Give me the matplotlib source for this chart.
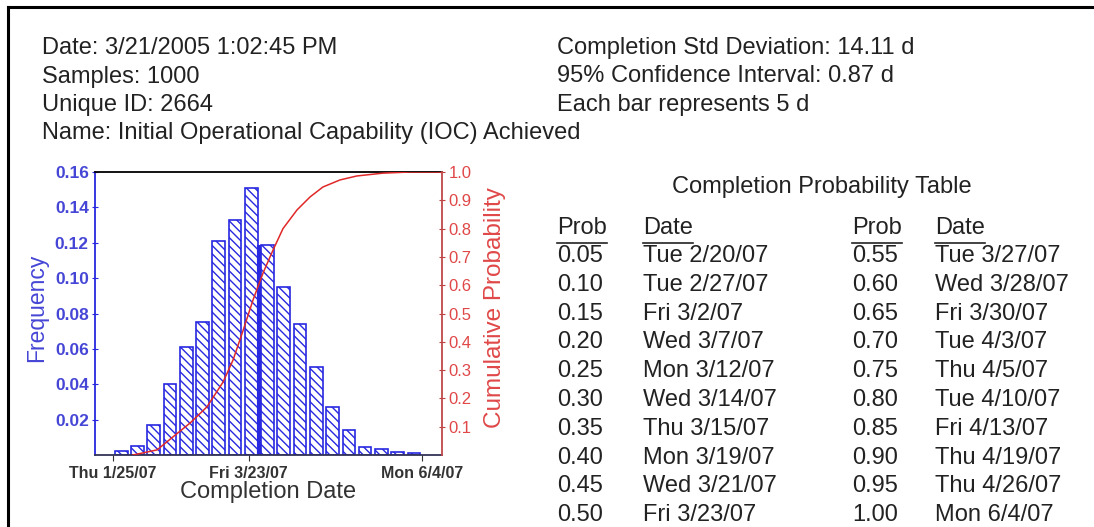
import numpy as np
import pandas as pd
import matplotlib
matplotlib.use("Agg")
import matplotlib.pyplot as plt
from matplotlib.lines import Line2D

plt.rcParams['font.family'] = ['Liberation Sans', 'DejaVu Sans']
plt.rcParams['hatch.linewidth'] = 1.0

# datos del histograma (19 barras entre Thu 1/25/07 y Mon 6/4/07)
frecuencia = [0.002, 0.005, 0.017, 0.040, 0.061, 0.075, 0.121, 0.133, 0.151, 0.119,
              0.095, 0.074, 0.050, 0.027, 0.014, 0.0047, 0.0032, 0.0019, 0.001]

# curva acumulada (dias despues de 1/25/07, probabilidad)
curva_dias = [8.4, 18.5, 25.2, 32.4, 39.5, 46.3, 50.5, 54.7, 58.9, 63.1, 67.3,
              71.5, 77.4, 82.9, 88.3, 95.5, 102.6, 113.6, 124.9, 138.4]
curva_prob = [0.0, 0.018, 0.064, 0.113, 0.17, 0.258, 0.336, 0.44, 0.548, 0.643, 0.724,
              0.80, 0.866, 0.912, 0.947, 0.972, 0.986, 0.996, 1.0, 1.0]

inicio = "2007-01-25"
fin = "2007-06-04"
tick_fechas = ["2007-01-25", "2007-03-23", "2007-06-04"]
tick_textos = ["Thu 1/25/07", "Fri 3/23/07", "Mon 6/4/07"]
marca_dia = 61.5  # linea azul gruesa

info_izq = ["Date: 3/21/2005 1:02:45 PM", "Samples: 1000", "Unique ID: 2664",
            "Name: Initial Operational Capability (IOC) Achieved"]
info_der = ["Completion Std Deviation: 14.11 d", "95% Confidence Interval: 0.87 d",
            "Each bar represents 5 d"]

tabla_prob1 = ["0.05", "0.10", "0.15", "0.20", "0.25", "0.30", "0.35", "0.40", "0.45", "0.50"]
tabla_fecha1 = ["Tue 2/20/07", "Tue 2/27/07", "Fri 3/2/07", "Wed 3/7/07", "Mon 3/12/07",
                "Wed 3/14/07", "Thu 3/15/07", "Mon 3/19/07", "Wed 3/21/07", "Fri 3/23/07"]
tabla_prob2 = ["0.55", "0.60", "0.65", "0.70", "0.75", "0.80", "0.85", "0.90", "0.95", "1.00"]
tabla_fecha2 = ["Tue 3/27/07", "Wed 3/28/07", "Fri 3/30/07", "Tue 4/3/07", "Thu 4/5/07",
                "Tue 4/10/07", "Fri 4/13/07", "Thu 4/19/07", "Thu 4/26/07", "Mon 6/4/07"]

W, H = 1094, 527
azul = '#2828e0'
azul_txt = '#4646d6'
rojo = '#e02828'
rojo_txt = '#e04848'
gris = '#222222'
fs = 17

t0 = pd.Timestamp(inicio)
total = (pd.Timestamp(fin) - t0).days
bordes = np.linspace(0, total, len(frecuencia) + 1)
centros = (bordes[:-1] + bordes[1:]) / 2
ancho = (bordes[1] - bordes[0]) * 0.78
ticks = [(pd.Timestamp(f) - t0).days for f in tick_fechas]

fig = plt.figure(figsize=(W / 100, H / 100), dpi=100)
ax = fig.add_axes([95 / W, 1 - 455 / H, (442 - 95) / W, (455 - 172) / H])

ax.bar(centros, frecuencia, width=ancho, facecolor='white', edgecolor=azul,
       hatch='\\\\\\\\', linewidth=1.2)
ax.vlines(marca_dia, 0, frecuencia[9], color=azul, linewidth=3)
ax.set_xlim(-7.6, 138.4)
ax.set_ylim(0, 0.16)
ax.set_yticks([0.02, 0.04, 0.06, 0.08, 0.10, 0.12, 0.14, 0.16])
ax.set_yticklabels(['0.02', '0.04', '0.06', '0.08', '0.10', '0.12', '0.14', '0.16'],
                   fontsize=12.5, fontweight='bold', color=azul_txt)
ax.set_xticks(ticks)
ax.set_xticklabels(tick_textos, fontsize=11.5, fontweight='bold', color='#333333')
ax.tick_params(axis='y', direction='inout', length=5, color=azul, pad=2)
ax.tick_params(axis='x', direction='out', length=4, color='#333333', pad=4)
ax.set_ylabel('Frequency', fontsize=16.5, color=azul_txt)
ax.yaxis.set_label_coords(-0.135, 0.52)
ax.set_xlabel('Completion Date', fontsize=17, color='#333333', labelpad=0)
ax.spines['left'].set_color(azul)
ax.spines['bottom'].set_color('#333355')
ax.spines['top'].set_color('black')
ax.spines['right'].set_visible(False)
for s in ['left', 'bottom', 'top']:
    ax.spines[s].set_linewidth(1.3)

ax2 = ax.twinx()
ax2.plot(curva_dias, curva_prob, color=rojo, linewidth=1.1)
ax2.set_ylim(0, 1.0)
ax2.set_yticks([0.1, 0.2, 0.3, 0.4, 0.5, 0.6, 0.7, 0.8, 0.9, 1.0])
ax2.set_yticklabels(['0.1', '0.2', '0.3', '0.4', '0.5', '0.6', '0.7', '0.8', '0.9', '1.0'],
                    fontsize=12, color=rojo_txt)
ax2.tick_params(axis='y', direction='inout', length=5, color='#c04040', pad=2)
ax2.set_ylabel('Cumulative Probability', fontsize=17.5, color=rojo_txt)
ax2.yaxis.set_label_coords(1.122, 0.52)
for s in ['left', 'bottom', 'top']:
    ax2.spines[s].set_visible(False)
ax2.spines['right'].set_color('#c04848')
ax2.spines['right'].set_linewidth(1.3)

# textos de arriba
for i, t in enumerate(info_izq):
    fig.text(42 / W, 1 - (48 + 28.5 * i) / H, t, fontsize=fs, color=gris, va='center')
for i, t in enumerate(info_der):
    fig.text(557 / W, 1 - (48 + 28.5 * i) / H, t, fontsize=fs, color=gris, va='center')

# tabla de probabilidades
fig.text(822 / W, 1 - 187 / H, 'Completion Probability Table', fontsize=fs, color=gris,
         ha='center', va='center')
renderer = fig.canvas.get_renderer()
for x, h in [(557, 'Prob'), (643, 'Date'), (852, 'Prob'), (935, 'Date')]:
    txt = fig.text(x / W, 1 - 228 / H, h, fontsize=fs, color=gris, va='center')
    bb = txt.get_window_extent(renderer)
    fig.add_artist(Line2D([bb.x0 / W, bb.x1 / W], [(H - 243) / H, (H - 243) / H],
                          color=gris, linewidth=1.2))
for i in range(len(tabla_prob1)):
    y = 1 - (256 + 28.8 * i) / H
    fig.text(557 / W, y, tabla_prob1[i], fontsize=fs, color=gris, va='center')
    fig.text(643 / W, y, tabla_fecha1[i], fontsize=fs, color=gris, va='center')
    fig.text(852 / W, y, tabla_prob2[i], fontsize=fs, color=gris, va='center')
    fig.text(935 / W, y, tabla_fecha2[i], fontsize=fs, color=gris, va='center')

# marco
fig.add_artist(Line2D([8 / W, 8 / W], [0, 1 - 7 / H], color='black', linewidth=2.2))
fig.add_artist(Line2D([8 / W, 1], [1 - 7 / H, 1 - 7 / H], color='black', linewidth=2.2))

fig.savefig('out.png', dpi=100)
